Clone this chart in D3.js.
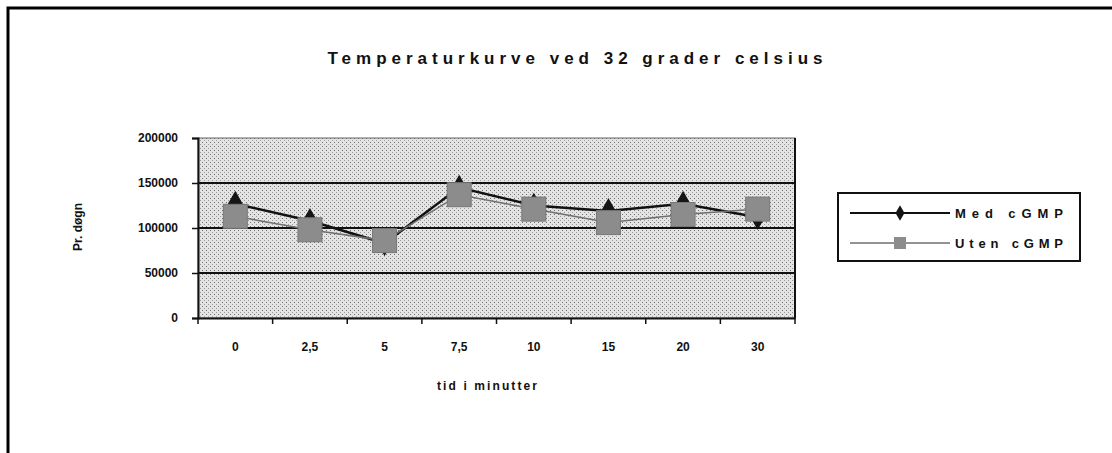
<!DOCTYPE html>
<html>
<head>
<meta charset="utf-8">
<script src="https://cdn.jsdelivr.net/npm/d3@7"></script>
<style>
  body { margin: 0; background: #fff; }
  text { font-family: "Liberation Sans", Arial, sans-serif; font-weight: bold; fill: #111; }
</style>
</head>
<body>
<div id="chart"></div>
<script>
// chart data
const categories = ["0", "2,5", "5", "7,5", "10", "15", "20", "30"];
const medValues = [127000, 108000, 83000, 145000, 125000, 119000, 127000, 112000];
const utenValues = [113000, 98000, 86000, 137000, 121000, 106000, 115000, 121000];
const yTicks = [0, 50000, 100000, 150000, 200000];
const seriesNames = ["Med cGMP", "Uten cGMP"];

const W = 1112, H = 453;
const margin = { top: 138, left: 198, right: 317, bottom: 135 };
const width = W - margin.left - margin.right;
const height = H - margin.top - margin.bottom;

const svg = d3.select("#chart").append("svg")
    .attr("width", W)
    .attr("height", H);

// stipple pattern to mimic the scanned grey plot area
const defs = svg.append("defs");
const pat = defs.append("pattern")
    .attr("id", "stipple")
    .attr("width", 4).attr("height", 4)
    .attr("patternUnits", "userSpaceOnUse");
pat.append("rect").attr("width", 4).attr("height", 4).attr("fill", "#e4e4e4");
pat.append("rect").attr("x", 0).attr("y", 0).attr("width", 1).attr("height", 1).attr("fill", "#6e6e6e");
pat.append("rect").attr("x", 2).attr("y", 2).attr("width", 1).attr("height", 1).attr("fill", "#9a9a9a");

// outer frame (top and left edge visible in the scan)
svg.append("path")
    .attr("d", `M8,${H} L8,8 L${W},8`)
    .attr("fill", "none")
    .attr("stroke", "#000")
    .attr("stroke-width", 3);

// title
svg.append("text")
    .attr("x", 575).attr("y", 64)
    .attr("text-anchor", "middle")
    .attr("font-size", 17)
    .attr("textLength", 495)
    .attr("lengthAdjust", "spacing")
    .text("Temperaturkurve ved 32 grader celsius");

const g = svg.append("g").attr("transform", `translate(${margin.left},${margin.top})`);

const x = d3.scaleBand().domain(categories).range([0, width]);
const y = d3.scaleLinear().domain([0, 200000]).range([height, 0]);

// plot area
g.append("rect")
    .attr("width", width).attr("height", height)
    .attr("fill", "url(#stipple)")
    .attr("stroke", "#666").attr("stroke-width", 1);
g.append("line")
    .attr("x1", width).attr("x2", width)
    .attr("y1", 0).attr("y2", height)
    .attr("stroke", "#111").attr("stroke-width", 2);

// gridlines
g.selectAll(".grid")
    .data(yTicks.filter(d => d > 0 && d < 200000))
    .enter().append("line")
    .attr("x1", 0).attr("x2", width)
    .attr("y1", d => y(d)).attr("y2", d => y(d))
    .attr("stroke", "#111").attr("stroke-width", 2);

// y axis
const yAxis = g.append("g")
    .call(d3.axisLeft(y).tickValues(yTicks).tickSize(6).tickPadding(14).tickFormat(d => d));
yAxis.select(".domain").attr("stroke", "#111").attr("stroke-width", 2);
yAxis.selectAll(".tick line").attr("stroke", "#111").attr("stroke-width", 1.5);
yAxis.selectAll("text").attr("font-size", 12).attr("font-family", null);

// x axis with ticks on band edges
const xAxis = g.append("g")
    .attr("transform", `translate(0,${height})`)
    .call(d3.axisBottom(x).tickSize(0).tickPadding(24));
xAxis.select(".domain").attr("stroke", "#111").attr("stroke-width", 2);
xAxis.selectAll("text").attr("font-size", 12).attr("font-family", null);
g.selectAll(".xtick")
    .data(d3.range(categories.length + 1))
    .enter().append("line")
    .attr("x1", i => i * x.step()).attr("x2", i => i * x.step())
    .attr("y1", height).attr("y2", height + 6)
    .attr("stroke", "#111").attr("stroke-width", 1.5);

// axis titles
svg.append("text")
    .attr("x", 487).attr("y", 390)
    .attr("text-anchor", "middle")
    .attr("font-size", 12)
    .attr("textLength", 100)
    .attr("lengthAdjust", "spacing")
    .text("tid i minutter");

svg.append("text")
    .attr("transform", "translate(82,227) rotate(-90)")
    .attr("text-anchor", "middle")
    .attr("font-size", 12)
    .text("Pr. døgn");

const cx = d => x(d) + x.bandwidth() / 2;
const line = d3.line().x(d => cx(d[0])).y(d => y(d[1]));

const medData = categories.map((c, i) => [c, medValues[i]]);
const utenData = categories.map((c, i) => [c, utenValues[i]]);

// Med cGMP line + diamonds
g.append("path")
    .datum(medData)
    .attr("d", line)
    .attr("fill", "none")
    .attr("stroke", "#111")
    .attr("stroke-width", 2.5);

const diamond = d3.symbol().type(d3.symbolDiamond).size(190);
g.selectAll(".med")
    .data(medData)
    .enter().append("path")
    .attr("transform", d => `translate(${cx(d[0])},${y(d[1])})`)
    .attr("d", diamond)
    .attr("fill", "#151515");

// Uten cGMP line + squares
g.append("path")
    .datum(utenData)
    .attr("d", line)
    .attr("fill", "none")
    .attr("stroke", "#6f6f6f")
    .attr("stroke-width", 1.5);

g.selectAll(".uten")
    .data(utenData)
    .enter().append("rect")
    .attr("x", d => cx(d[0]) - 12)
    .attr("y", d => y(d[1]) - 12)
    .attr("width", 24).attr("height", 24)
    .attr("fill", "#8c8c8c")
    .attr("stroke", "#777")
    .attr("stroke-width", 1);

// legend
const legend = svg.append("g").attr("transform", "translate(838,193)");
legend.append("rect")
    .attr("width", 242).attr("height", 68)
    .attr("fill", "#fff")
    .attr("stroke", "#111").attr("stroke-width", 2);

const rows = legend.selectAll(".row")
    .data(seriesNames)
    .enter().append("g")
    .attr("transform", (d, i) => `translate(0,${20 + i * 30})`);

rows.append("line")
    .attr("x1", 12).attr("x2", 112)
    .attr("stroke", (d, i) => i === 0 ? "#111" : "#6f6f6f")
    .attr("stroke-width", (d, i) => i === 0 ? 2 : 1.5);

rows.filter((d, i) => i === 0).append("path")
    .attr("transform", "translate(62,0)")
    .attr("d", d3.symbol().type(d3.symbolDiamond).size(70))
    .attr("fill", "#151515");
rows.filter((d, i) => i === 1).append("rect")
    .attr("x", 56).attr("y", -6).attr("width", 12).attr("height", 12)
    .attr("fill", "#8c8c8c");

rows.append("text")
    .attr("x", 117).attr("y", 5)
    .attr("font-size", 13)
    .attr("textLength", 108)
    .attr("lengthAdjust", "spacing")
    .text(d => d);
</script>
</body>
</html>
